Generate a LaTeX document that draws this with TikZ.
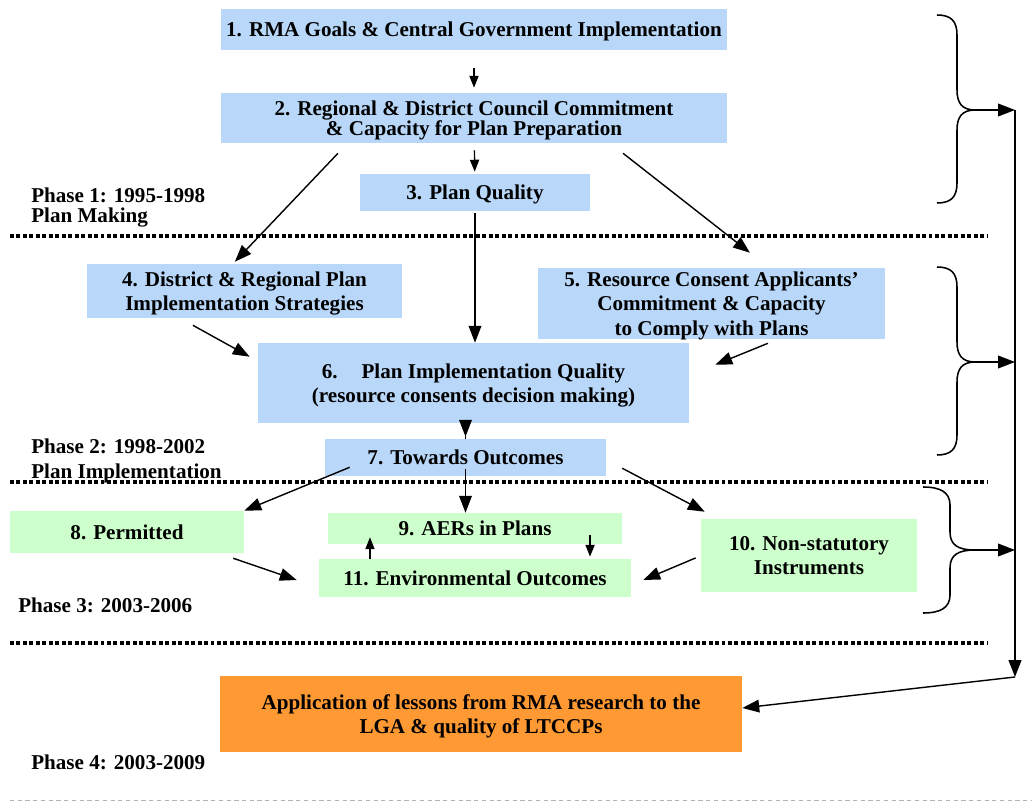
\documentclass[tikz,border=0pt]{standalone}
\usepackage{fontspec}
\setmainfont{Liberation Serif}
\usepackage{tikz}
\usetikzlibrary{arrows.meta, positioning}
\definecolor{planblue}{HTML}{B9D7F8}
\definecolor{outgreen}{HTML}{CCFFCC}
\definecolor{lessonorange}{HTML}{FF9933}

\begin{document}
\begin{tikzpicture}[x=0.025cm, y=-0.025cm,
        box/.style={fill=planblue, font=\fontsize{15}{17.3}\selectfont\bfseries, align=center, inner sep=0pt, text depth=0pt, text=black},
        greenbox/.style={box, fill=outgreen},
        phase/.style={font=\fontsize{15}{17.3}\selectfont\bfseries, align=left, inner sep=0pt, anchor=north west},
        arrow/.style={-{Triangle[length=12pt, width=9pt]}, line width=1pt},
        small arrow/.style={-{Triangle[length=8.5pt, width=6.5pt]}, line width=1pt},
        phase line/.style={line width=2.3pt, dash pattern=on 2.8pt off 1.8pt},
        brace/.style={line width=1.1pt},
        spine/.style={-{Triangle[length=12pt, width=9pt]}, line width=1.4pt}
    ]
        \useasboundingbox (0,0) rectangle (1032,801);

        % phase 1: plan making
        \node (goals) [box, minimum width=12.65cm, minimum height=1.025cm] at (474,29.5) {1. RMA Goals \& Central Government Implementation};
        \node (council) [box, minimum width=12.65cm, minimum height=1.25cm, font=\fontsize{15}{14.2}\selectfont\bfseries] at (474,118) {2. Regional \& District Council Commitment\\\& Capacity for Plan Preparation};
        \node (quality) [box, minimum width=5.75cm, minimum height=0.925cm] at (475,192.5) {3. Plan Quality};

        % phase 2: plan implementation
        \node (strategies) [box, minimum width=7.875cm, minimum height=1.35cm] at (244.5,291) {4. District \& Regional Plan\\Implementation Strategies};
        \node (applicants) [box, minimum width=8.675cm, minimum height=1.775cm] at (711.5,303.5) {5. Resource Consent Applicants'\\Commitment \& Capacity\\to Comply with Plans};
        \node (implement) [box, minimum width=10.775cm, minimum height=2cm] at (473.5,383) {6.\hspace{17pt}Plan Implementation Quality\\(resource consents decision making)};
        \node (outcomes) [box, minimum width=7.025cm, minimum height=0.925cm] at (465.5,457.5) {7. Towards Outcomes};

        % phase 3
        \node (permitted) [greenbox, minimum width=5.85cm, minimum height=1.05cm] at (127,532) {8. Permitted};
        \node (aers) [greenbox, minimum width=7.35cm, minimum height=0.775cm] at (475,528.5) {9. AERs in Plans};
        \node (nonstat) [greenbox, minimum width=5.4cm, minimum height=1.825cm] at (809,555.5) {10. Non-statutory\\Instruments};
        \node (envout) [greenbox, minimum width=7.8cm, minimum height=0.95cm] at (475,578) {11. Environmental Outcomes};

        % phase 4
        \node (lessons) [box, fill=lessonorange, minimum width=13.05cm, minimum height=1.9cm] at (481,714) {Application of lessons from RMA research to the\\LGA \& quality of LTCCPs};

        \node (phase1) [phase, font=\fontsize{15}{14}\selectfont\bfseries] at (31,188) {Phase 1: 1995-1998\\Plan Making};
        \node (phase2) [phase] at (31,439) {Phase 2: 1998-2002\\Plan Implementation};
        \node (phase3) [phase] at (18,598) {Phase 3: 2003-2006};
        \node (phase4) [phase] at (31,755) {Phase 4: 2003-2009};

        \foreach \y in {236,482,643}
            \draw [phase line] (10,\y) -- (988,\y);
        \draw [gray!60, line width=0.6pt, dash pattern=on 3pt off 2.5pt] (10,800) -- (1032,800);

        % braces
        \draw [brace] (937,15) .. controls (951,15) and (957,21) .. (957,35) -- (957,90) .. controls (957,103) and (962,110) .. (975,110) .. controls (962,110) and (957,117) .. (957,130) -- (957,183) .. controls (957,197) and (951,203) .. (937,203);
        \draw [brace] (937,267) .. controls (951,267) and (957,273) .. (957,287) -- (957,342) .. controls (957,355) and (962,362) .. (975,362) .. controls (962,362) and (957,369) .. (957,382) -- (957,435) .. controls (957,449) and (951,455) .. (937,455);
        \draw [brace] (923,487) .. controls (940,487) and (950,492) .. (950,505) -- (950,532) .. controls (950,545) and (958,550) .. (975,550) .. controls (958,550) and (950,555) .. (950,568) -- (950,595) .. controls (950,608) and (940,613) .. (923,613);
        \coordinate (tip1) at (975,110);
        \coordinate (tip2) at (975,362);
        \coordinate (tip3) at (975,550);
        \coordinate (spine top) at (1015,110);
        \coordinate (spine end) at (1015,677);

        \draw [spine] (spine top) -- (spine end);
        \draw [arrow] (spine end) -- ([yshift=0.15cm]lessons.east);
        \draw [arrow] (tip1) -- (spine top);
        \draw [arrow] (tip2) -- (tip2 -| spine top);
        \draw [arrow] (tip3) -- (tip3 -| spine top);

        % connectors
        \draw [small arrow, shorten <=0.45cm, shorten >=0.125cm] (goals) -- (council);
        \draw [small arrow, shorten <=0.175cm, shorten >=0.05cm] (council) -- (quality);
        \draw [arrow, shorten <=0.05cm] (quality) -- (quality |- implement.north);
        \draw [arrow] ([xshift=-3.4cm, yshift=-0.25cm]council.south) -- ([xshift=-0.24cm, yshift=0.05cm]strategies.north);
        \draw [arrow] ([xshift=3.725cm, yshift=-0.25cm]council.south) -- ([xshift=0.96cm, yshift=0.375cm]applicants.north);
        \draw [arrow] ([xshift=-1.29cm, yshift=-0.175cm]strategies.south) -- ([xshift=-0.2cm, yshift=-0.35cm]implement.north west);
        \draw [arrow] ([xshift=1.41cm, yshift=-0.1cm]applicants.south) -- ([xshift=0.65cm, yshift=-0.55cm]implement.north east);
        \draw [arrow, shorten <=-0.4cm, shorten >=0.05cm] (implement.south -| outcomes) -- (outcomes.north);
        \draw [arrow] ([xshift=0.625cm, yshift=0.225cm]outcomes.south west) -- (permitted.north east);
        \draw [arrow, shorten <=-0.175cm] (outcomes.south) -- (outcomes.south |- aers.north);
        \draw [arrow] ([xshift=0.4cm, yshift=0.2cm]outcomes.south east) -- ([xshift=0.1cm, yshift=0.175cm]nonstat.north west);
        \draw [arrow] ([xshift=-0.275cm, yshift=-0.125cm]permitted.south east) -- ([xshift=-0.55cm, yshift=-0.05cm]envout.west);
        \draw [small arrow, shorten >=-0.175cm] ([xshift=-2.625cm]envout.north) -- ([xshift=-2.625cm]envout.north |- aers.south);
        \draw [small arrow, shorten <=-0.225cm, shorten >=0.05cm] ([xshift=2.875cm]aers.south) -- ([xshift=2.875cm]aers.south |- envout.north);
        \draw [arrow] ([xshift=-0.125cm, yshift=-0.06cm]nonstat.west) -- ([xshift=0.3cm, yshift=-0.05cm]envout.east);
    \end{tikzpicture}
\end{document}
